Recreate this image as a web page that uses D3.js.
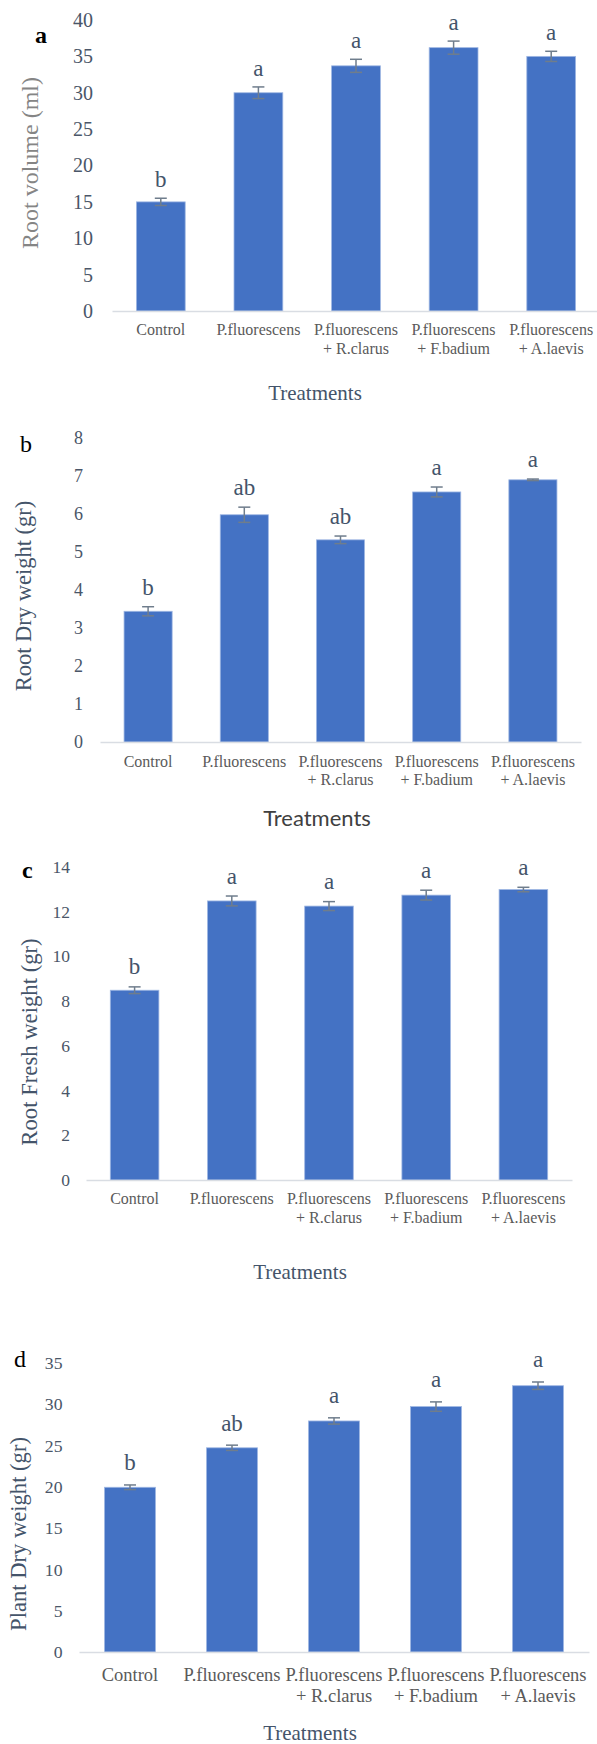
<!DOCTYPE html>
<html lang="en">
<head>
  <meta charset="UTF-8">
  <title>Treatment effects on root and plant growth</title>
  <style>
    body { margin: 0; background: #fff; }
    svg { display: block; }
    .serif { font-family: "Liberation Serif", "Times New Roman", serif; }
  </style>
</head>
<body>
  <div id="charts"></div>

  <script src="https://d3js.org/d3.v7.min.js"></script>
  <script>

    // treatments on the x axis (same for all four panels)
    const treatments = ["Control", "P.fluorescens", "P.fluorescens + R.clarus",
                        "P.fluorescens + F.badium", "P.fluorescens + A.laevis"];

    // a - root volume
    const rootVolume = [15.0, 30.0, 33.7, 36.2, 35.0];
    const rootVolumeErr = [0.5, 0.8, 0.9, 0.9, 0.7];
    const rootVolumeLetters = ["b", "a", "a", "a", "a"];
    const rootVolumeTicks = [0, 5, 10, 15, 20, 25, 30, 35, 40];

    // b - root dry weight
    const rootDry = [3.44, 5.98, 5.32, 6.58, 6.90];
    const rootDryErr = [0.12, 0.20, 0.10, 0.13, 0.02];
    const rootDryLetters = ["b", "ab", "ab", "a", "a"];
    const rootDryTicks = [0, 1, 2, 3, 4, 5, 6, 7, 8];

    // c - root fresh weight
    const rootFresh = [8.48, 12.47, 12.24, 12.73, 12.98];
    const rootFreshErr = [0.15, 0.22, 0.20, 0.22, 0.10];
    const rootFreshLetters = ["b", "a", "a", "a", "a"];
    const rootFreshTicks = [0, 2, 4, 6, 8, 10, 12, 14];

    // d - plant dry weight
    const plantDry = [19.95, 24.73, 27.98, 29.72, 32.25];
    const plantDryErr = [0.28, 0.32, 0.38, 0.57, 0.45];
    const plantDryLetters = ["b", "ab", "a", "a", "a"];
    const plantDryTicks = [0, 5, 10, 15, 20, 25, 30, 35];

    const width = 597, height = 1744;
    const barColor = "#4472c4",
          errColor = "#6f7d8c",
          tickColor = "#4a5668",
          labelColor = "#5a5a5a";

    const svg = d3.select("#charts")
      .append("svg")
      .attr("width", width)
      .attr("height", height)
      .attr("viewBox", [0, 0, width, height]);

    const panels = [
      { tag: "a", tagBold: true, tagX: 35, tagY: 43,
        values: rootVolume, errs: rootVolumeErr, letters: rootVolumeLetters, ticks: rootVolumeTicks,
        left: 112, right: 600, y0: 311, y1: 20, tickPad: 19, tickSize: 20,
        xFont: 16, xLine1: 335, lineGap: 19,
        title: "Root volume (ml)", titleColor: "#858585", titleX: 30, titleY: 163, titleSize: 24,
        xTitleX: 315, xTitleY: 400, xTitleFont: "serif", xTitleSize: 21, letterGap: 11 },
      { tag: "b", tagBold: false, tagX: 20, tagY: 452,
        values: rootDry, errs: rootDryErr, letters: rootDryLetters, ticks: rootDryTicks,
        left: 100, right: 581, y0: 742, y1: 438, tickPad: 17, tickSize: 18,
        xFont: 16, xLine1: 767, lineGap: 18,
        title: "Root Dry weight (gr)", titleColor: "#44546a", titleX: 23, titleY: 596, titleSize: 22.5,
        xTitleX: 317, xTitleY: 826, xTitleFont: "sans", xTitleSize: 22, letterGap: 12 },
      { tag: "c", tagBold: true, tagX: 22, tagY: 878,
        values: rootFresh, errs: rootFreshErr, letters: rootFreshLetters, ticks: rootFreshTicks,
        left: 86, right: 572, y0: 1180, y1: 866.7, tickPad: 16, tickSize: 17.5,
        xFont: 16, xLine1: 1204, lineGap: 19,
        title: "Root Fresh weight (gr)", titleColor: "#44546a", titleX: 29, titleY: 1042, titleSize: 22.7,
        xTitleX: 300, xTitleY: 1279, xTitleFont: "serif", xTitleSize: 21, letterGap: 12.5 },
      { tag: "d", tagBold: false, tagX: 14, tagY: 1367,
        values: plantDry, errs: plantDryErr, letters: plantDryLetters, ticks: plantDryTicks,
        left: 79, right: 589, y0: 1652, y1: 1363, tickPad: 16.5, tickSize: 17.7,
        xFont: 18.5, xLine1: 1681, lineGap: 21,
        title: "Plant Dry weight (gr)", titleColor: "#44546a", titleX: 18, titleY: 1534, titleSize: 22.6,
        xTitleX: 310, xTitleY: 1740, xTitleFont: "serif", xTitleSize: 21, letterGap: 14.5 }
    ];

    panels.forEach(p => {
      const g = svg.append("g").attr("class", "serif");

      let x = d3.scaleBand(treatments, [p.left, p.right])
        .paddingInner(0.5)
        .paddingOuter(0.25);

      const yMax = p.ticks[p.ticks.length - 1];
      let y = d3.scaleLinear([0, yMax], [p.y0, p.y1]);

      // y tick labels (no axis line, no gridlines)
      const yAxis = g.append("g")
        .attr("transform", `translate(${p.left},0)`)
        .call(d3.axisLeft(y).tickValues(p.ticks).tickSize(0).tickPadding(p.tickPad));
      yAxis.select(".domain").remove();
      yAxis.selectAll("text")
        .attr("font-family", "Liberation Serif, serif")
        .attr("font-size", p.tickSize)
        .attr("fill", tickColor);

      // bars
      const rows = treatments.map((t, i) => ({ t, v: p.values[i], e: p.errs[i], l: p.letters[i] }));

      g.append("g")
        .selectAll("rect")
        .data(rows)
        .join("rect")
        .attr("x", d => x(d.t))
        .attr("y", d => y(d.v))
        .attr("width", x.bandwidth())
        .attr("height", d => y(0) - y(d.v))
        .attr("fill", barColor)
        .attr("stroke", "#9fb7e3")
        .attr("stroke-width", 0.8);

      // baseline / x axis
      const xAxis = g.append("g")
        .attr("transform", `translate(0,${p.y0})`)
        .call(d3.axisBottom(x).tickSize(0).tickFormat(""));
      xAxis.select(".domain")
        .attr("stroke", "#d9dde3")
        .attr("stroke-width", 1.6);
      xAxis.selectAll(".tick").each(function(d) {
        const lines = d.split(" + ").map((s, i) => i > 0 ? "+ " + s : s);
        const t = d3.select(this).select("text")
          .attr("y", 0).attr("dy", null)
          .attr("font-family", "Liberation Serif, serif")
          .attr("font-size", p.xFont)
          .attr("fill", labelColor);
        lines.forEach((line, i) => {
          t.append("tspan")
            .attr("x", 0)
            .attr("y", p.xLine1 - p.y0 + i * p.lineGap)
            .text(line);
        });
      });

      // error bars
      const eb = g.append("g")
        .attr("stroke", errColor)
        .attr("stroke-width", 1.5)
        .selectAll("g")
        .data(rows)
        .join("g")
        .attr("transform", d => `translate(${x(d.t) + x.bandwidth() / 2},0)`);
      eb.append("line")
        .attr("y1", d => y(d.v - d.e))
        .attr("y2", d => y(d.v + d.e));
      eb.append("line")
        .attr("x1", -6).attr("x2", 6)
        .attr("y1", d => y(d.v + d.e))
        .attr("y2", d => y(d.v + d.e));
      eb.append("line")
        .attr("x1", -6).attr("x2", 6)
        .attr("y1", d => y(d.v - d.e))
        .attr("y2", d => y(d.v - d.e));

      // significance letters
      g.append("g")
        .selectAll("text")
        .data(rows)
        .join("text")
        .attr("x", d => x(d.t) + x.bandwidth() / 2)
        .attr("y", d => y(d.v + d.e) - p.letterGap)
        .attr("text-anchor", "middle")
        .attr("font-size", 23)
        .attr("fill", "#44546a")
        .text(d => d.l);

      // y axis title
      g.append("text")
        .attr("transform", `translate(${p.titleX},${p.titleY}) rotate(-90)`)
        .attr("text-anchor", "middle")
        .attr("dy", "0.35em")
        .attr("font-size", p.titleSize)
        .attr("fill", p.titleColor)
        .text(p.title);

      // x axis title
      g.append("text")
        .attr("x", p.xTitleX)
        .attr("y", p.xTitleY)
        .attr("text-anchor", "middle")
        .attr("font-family", p.xTitleFont == "sans" ? "Lato, 'Open Sans', sans-serif" : "Liberation Serif, serif")
        .attr("font-size", p.xTitleSize)
        .attr("fill", p.xTitleFont == "sans" ? "#404040" : "#44546a")
        .text("Treatments");

      // panel tag
      g.append("text")
        .attr("x", p.tagX)
        .attr("y", p.tagY)
        .attr("font-size", 24)
        .attr("font-weight", p.tagBold ? "bold" : "normal")
        .attr("fill", "#000")
        .text(p.tag);
    });

  </script>
</body>
</html>
